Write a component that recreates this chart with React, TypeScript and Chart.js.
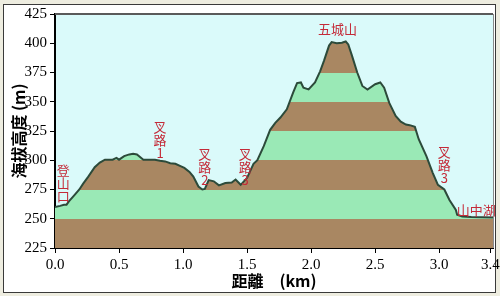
import React, { useEffect, useRef } from 'react';
import { Chart, registerables } from 'chart.js';
Chart.register(...registerables);

// Elevation profile (distance in km, elevation in m)
const distanceKm = [
  0.0, 0.04, 0.07, 0.09, 0.11, 0.15, 0.19, 0.22, 0.26, 0.31, 0.35, 0.39, 0.45, 0.48, 0.5, 0.54, 0.58, 0.61, 0.64,
  0.69, 0.78, 0.82, 0.86, 0.9, 0.94, 0.98, 1.01, 1.05, 1.08, 1.12, 1.15, 1.17, 1.2, 1.24, 1.28, 1.33, 1.38, 1.41,
  1.45, 1.5, 1.55, 1.58, 1.63, 1.68, 1.72, 1.76, 1.81, 1.86, 1.89, 1.92, 1.94, 1.98, 2.03, 2.07, 2.1, 2.14, 2.16,
  2.2, 2.24, 2.27, 2.29, 2.32, 2.36, 2.4, 2.44, 2.5, 2.54, 2.57, 2.61, 2.66, 2.7, 2.74, 2.77, 2.81, 2.84, 2.9,
  2.95, 2.99, 3.04, 3.08, 3.13, 3.14, 3.18, 3.25, 3.42,
];
const elevationM = [
  260, 261, 262, 262, 265, 270, 275, 280, 286, 294, 298, 300.5, 300.5, 302, 300.5, 303.5, 305, 305.5, 305,
  300.5, 300.5, 299.5, 299, 297.5, 297, 295, 293.5, 290, 286, 277.5, 275, 275.5, 283, 282, 278.5, 280.5, 281, 283.5,
  279, 285, 297, 300, 312, 326, 332, 336.5, 343.5, 358, 366, 366.5, 362, 360.5, 366.5, 376, 385, 398, 401,
  400, 400.5, 401.5, 399, 389, 375, 363.5, 360.5, 365, 366.5, 362, 349, 337.8, 333, 330.5, 330, 328.5, 318, 303.5,
  289, 279, 275, 266, 257.5, 253.5, 252, 251.5, 251,
];

const yTickValues = [225, 250, 275, 300, 325, 350, 375, 400, 425];
const xTickValues = [0, 0.5, 1.0, 1.5, 2.0, 2.5, 3.0, 3.4];

// Elevation bands (boundaries in m) and their fill colours, from the bottom up
const bandBreaks = [250, 275, 300, 325, 350, 375];
const bandColors = ['#a98762', '#9ae9b6', '#a98762', '#9ae9b6', '#a98762', '#9ae9b6', '#a98762'];

// Place-name annotations (data coordinates)
const labelTexts = ['登山口', '叉路1', '叉路2', '叉路3', '五城山', '叉路3', '山中湖'];
const labelKm = [0.065, 0.82, 1.17, 1.485, 2.206, 3.04, 3.29];
const labelM = [292, 328, 305, 305, 412, 307, 257.6];
const labelVertical = [true, true, true, true, false, true, false];

const X_MIN = 0;
const X_MAX = 3.42;
const Y_MIN = 225;
const Y_MAX = 425;

const frameAndBg = {
  id: 'frameAndBg',
  beforeDraw(chart: any) {
    const { ctx, chartArea, width, height } = chart;
    ctx.save();
    ctx.fillStyle = '#eeede0';
    ctx.fillRect(0, 0, width, height);
    ctx.fillStyle = '#ffffff';
    ctx.fillRect(3, 4, 493, 289);
    ctx.strokeStyle = '#3a3a3a';
    ctx.lineWidth = 1;
    ctx.strokeRect(3.5, 4.5, 492, 288);
    ctx.fillStyle = '#dafafa';
    ctx.fillRect(chartArea.left, chartArea.top, chartArea.right - chartArea.left, chartArea.bottom - chartArea.top);
    ctx.restore();
  },
  afterDraw(chart: any) {
    const { ctx, chartArea } = chart;
    ctx.save();
    ctx.strokeStyle = '#5a5a5a';
    ctx.lineWidth = 2;
    ctx.beginPath();
    ctx.moveTo(chartArea.left, chartArea.top);
    ctx.lineTo(chartArea.right, chartArea.top);
    ctx.stroke();
    ctx.strokeStyle = '#8a8a8a';
    ctx.lineWidth = 1;
    ctx.beginPath();
    ctx.moveTo(chartArea.right + 0.5, chartArea.top);
    ctx.lineTo(chartArea.right + 0.5, chartArea.bottom);
    ctx.stroke();
    ctx.restore();
  },
};

const annotations = {
  id: 'annotations',
  afterDatasetsDraw(chart: any) {
    const { ctx, scales } = chart;
    const xs = scales.x;
    const ys = scales.y;
    ctx.save();
    ctx.fillStyle = '#c42a38';
    ctx.textAlign = 'center';
    ctx.textBaseline = 'middle';
    ctx.font = '13px "Noto Sans CJK TC"';
    labelTexts.forEach((t, i) => {
      const px = xs.getPixelForValue(labelKm[i]);
      const py = ys.getPixelForValue(labelM[i]);
      if (labelVertical[i]) {
        Array.from(t).forEach((ch, k) => {
          ctx.fillText(ch, px, py + k * 13);
        });
      } else {
        ctx.fillText(t, px, py);
      }
    });
    ctx.restore();
  },
};

export default function App() {
  const ref = useRef<HTMLCanvasElement | null>(null);

  useEffect(() => {
    if (!ref.current) return;
    const points = distanceKm.map((x, i) => ({ x, y: elevationM[i] }));
    const tickFont = { family: '"Liberation Serif", serif', size: 15 };
    const chart = new Chart(ref.current, {
      type: 'line',
      data: {
        datasets: [
          {
            data: points,
            borderColor: '#2c4a3a',
            borderWidth: 2,
            pointRadius: 0,
            tension: 0,
            fill: 'start',
            backgroundColor: (c: any) => {
              const ch = c.chart;
              const ys = ch.scales && ch.scales.y;
              if (!ch.chartArea || !ys) return 'rgba(0,0,0,0)';
              const y0 = ys.getPixelForValue(Y_MIN);
              const y1 = ys.getPixelForValue(Y_MAX);
              const g = ch.ctx.createLinearGradient(0, y0, 0, y1);
              const edges = [Y_MIN, ...bandBreaks, Y_MAX];
              for (let i = 0; i < edges.length - 1; i++) {
                const a = (edges[i] - Y_MIN) / (Y_MAX - Y_MIN);
                const b = (edges[i + 1] - Y_MIN) / (Y_MAX - Y_MIN);
                g.addColorStop(a, bandColors[i]);
                g.addColorStop(b, bandColors[i]);
              }
              return g;
            },
          },
        ],
      },
      options: {
        animation: false,
        responsive: true,
        maintainAspectRatio: false,
        layout: { padding: { left: 0, top: 14, right: 7, bottom: 0 } },
        plugins: { legend: { display: false }, tooltip: { enabled: false } },
        scales: {
          x: {
            type: 'linear',
            min: X_MIN,
            max: X_MAX,
            afterBuildTicks: (s: any) => {
              s.ticks = xTickValues.map((v) => ({ value: v }));
            },
            afterFit: (s: any) => {
              s.height = 48;
              s.paddingLeft = 0;
              s.paddingRight = 0;
            },
            grid: { drawOnChartArea: false, drawTicks: true, tickLength: 5, color: '#000', lineWidth: 1 },
            border: { display: true, color: '#000', width: 2 },
            ticks: {
              color: '#000',
              font: tickFont,
              padding: 3,
              maxRotation: 0,
              autoSkip: false,
              callback: (v: any) => Number(v).toFixed(1),
            },
            title: {
              display: true,
              text: '距離\u3000(km)',
              color: '#000',
              font: { family: '"Noto Sans CJK TC"', size: 16, weight: 'bold' },
              padding: { top: 0, bottom: 5 },
            },
          },
          y: {
            min: Y_MIN,
            max: Y_MAX,
            afterBuildTicks: (s: any) => {
              s.ticks = yTickValues.map((v) => ({ value: v }));
            },
            afterFit: (s: any) => {
              s.width = 55;
              s.paddingTop = 0;
              s.paddingBottom = 0;
            },
            grid: { drawOnChartArea: false, drawTicks: true, tickLength: 5, color: '#000', lineWidth: 1 },
            border: { display: true, color: '#000', width: 2 },
            ticks: { color: '#000', font: tickFont, padding: 3 },
            title: {
              display: true,
              text: '海拔高度 (m)',
              color: '#000',
              font: { family: '"Noto Sans CJK TC"', size: 16, weight: 'bold' },
              padding: { top: 9, bottom: 0 },
            },
          },
        },
      },
      plugins: [frameAndBg, annotations],
    } as any);
    return () => chart.destroy();
  }, []);

  return (
    <div style={{ position: 'fixed', left: 0, top: 0, width: 500, height: 296 }}>
      <canvas ref={ref} />
    </div>
  );
}
